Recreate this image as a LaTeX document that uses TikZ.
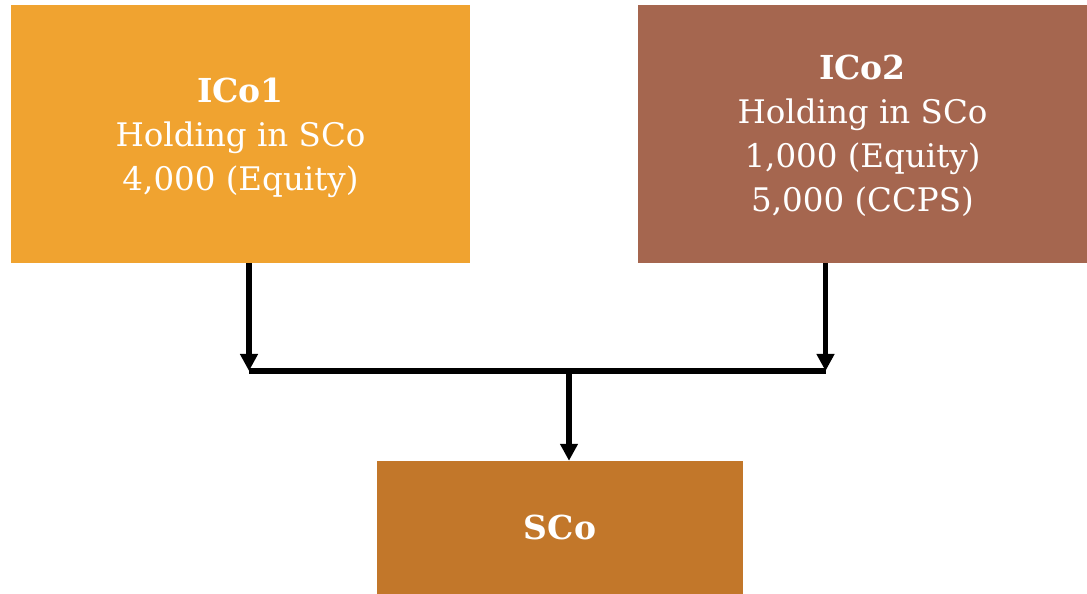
\documentclass[tikz,border=0pt]{standalone}
\usepackage{fontspec}
\setmainfont{DejaVu Serif}
\usetikzlibrary{arrows.meta}
\definecolor{boxorange}{HTML}{F0A330}
\definecolor{boxbrown}{HTML}{A5664F}
\definecolor{boxcopper}{HTML}{C2772A}
\tikzset{
  entity/.style={inner sep=0pt, anchor=center},
  entitytext/.style={inner sep=0pt, text=white, align=center, anchor=center,
    font=\fontsize{32.5}{44}\selectfont},
  conn/.style={line width=5.5pt, draw=black},
  connarrow/.style={conn, -{Triangle[width=17pt,length=17pt]}}
}
\newcommand{\boxtitle}[1]{{\fontsize{33}{44}\selectfont\bfseries #1}}
\begin{document}
\begin{tikzpicture}[x=1pt,y=1pt]
\useasboundingbox (0,0) rectangle (1087,594);
\node[entity, fill=boxorange, minimum width=459pt, minimum height=258pt] (a) at (240.5,460) {};
\node[entitytext] (at) at ([yshift=-4pt]a.center)
  {\boxtitle{ICo1}\\Holding in SCo\\4,000 (Equity)};
\node[entity, fill=boxbrown, minimum width=449pt, minimum height=258pt] (b) at (862.5,460) {};
\node[entitytext] (bt) at ([yshift=-2pt]b.center)
  {\boxtitle{ICo2}\\Holding in SCo\\1,000 (Equity)\\5,000 (CCPS)};
\node[entity, fill=boxcopper, minimum width=366pt, minimum height=133pt,
  text=white, font=\fontsize{33}{38}\selectfont\bfseries] (c) at (560,66.5) {SCo};
\coordinate (jl) at (249,223);
\coordinate (jr) at (825.5,223);
\coordinate (jm) at (569,223);
\draw[connarrow] (a.south -| jl) -- (jl);
\draw[connarrow] (b.south -| jr) -- (jr);
\draw[conn] (jl) -- (jr);
\draw[connarrow] (jm) -- (jm |- c.north);
\end{tikzpicture}
\end{document}
